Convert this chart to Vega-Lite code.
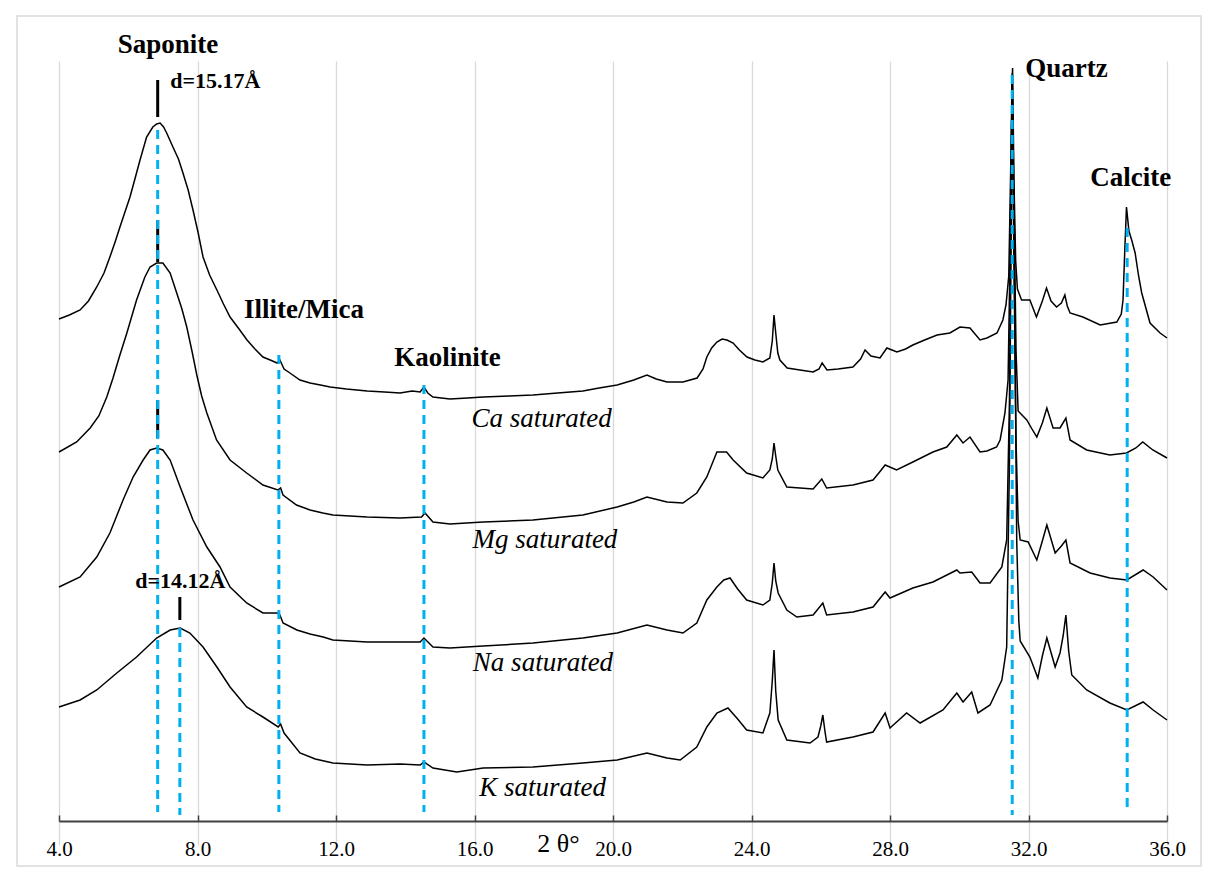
{
  "$schema": "https://vega.github.io/schema/vega-lite/v6.json",
  "width": 1184,
  "height": 850,
  "autosize": {"type": "none"},
  "padding": {"left": 17, "top": 16, "right": 9, "bottom": 7},
  "background": "white",
  "config": {"view": {"stroke": "#d9d9d9", "strokeWidth": 1.5}},
  "datasets": {
    "curves": [
      {"s":"Ca","x":4.00,"y":502},{"s":"Ca","x":4.30,"y":506},{"s":"Ca","x":4.61,"y":511},{"s":"Ca","x":4.85,"y":520},{"s":"Ca","x":5.09,"y":534},{"s":"Ca","x":5.30,"y":548},{"s":"Ca","x":5.47,"y":564},{"s":"Ca","x":5.62,"y":579},{"s":"Ca","x":5.76,"y":594},{"s":"Ca","x":6.05,"y":624},{"s":"Ca","x":6.20,"y":643},{"s":"Ca","x":6.34,"y":661},{"s":"Ca","x":6.53,"y":684},{"s":"Ca","x":6.71,"y":694},{"s":"Ca","x":6.82,"y":697},{"s":"Ca","x":6.92,"y":698},{"s":"Ca","x":7.02,"y":694},{"s":"Ca","x":7.11,"y":688},{"s":"Ca","x":7.29,"y":674},{"s":"Ca","x":7.45,"y":662},{"s":"Ca","x":7.58,"y":648},{"s":"Ca","x":7.73,"y":631},{"s":"Ca","x":7.87,"y":611},{"s":"Ca","x":8.02,"y":588},{"s":"Ca","x":8.16,"y":564},{"s":"Ca","x":8.35,"y":546},{"s":"Ca","x":8.56,"y":531},{"s":"Ca","x":8.75,"y":517},{"s":"Ca","x":8.94,"y":504},{"s":"Ca","x":9.20,"y":492},{"s":"Ca","x":9.43,"y":481},{"s":"Ca","x":9.66,"y":472},{"s":"Ca","x":9.89,"y":464},{"s":"Ca","x":10.10,"y":461},{"s":"Ca","x":10.30,"y":458},{"s":"Ca","x":10.38,"y":461},{"s":"Ca","x":10.50,"y":452},{"s":"Ca","x":10.67,"y":448},{"s":"Ca","x":10.96,"y":441},{"s":"Ca","x":11.25,"y":438},{"s":"Ca","x":11.55,"y":436},{"s":"Ca","x":11.83,"y":434},{"s":"Ca","x":12.30,"y":432},{"s":"Ca","x":12.90,"y":430},{"s":"Ca","x":13.40,"y":429},{"s":"Ca","x":13.85,"y":428},{"s":"Ca","x":14.20,"y":430},{"s":"Ca","x":14.43,"y":429},{"s":"Ca","x":14.54,"y":434},{"s":"Ca","x":14.65,"y":428},{"s":"Ca","x":14.80,"y":424},{"s":"Ca","x":15.29,"y":422},{"s":"Ca","x":15.80,"y":423},{"s":"Ca","x":16.25,"y":424},{"s":"Ca","x":17.00,"y":425},{"s":"Ca","x":17.69,"y":426},{"s":"Ca","x":18.40,"y":428},{"s":"Ca","x":19.13,"y":430},{"s":"Ca","x":19.60,"y":433},{"s":"Ca","x":20.12,"y":436},{"s":"Ca","x":20.60,"y":441},{"s":"Ca","x":20.98,"y":446},{"s":"Ca","x":21.25,"y":442},{"s":"Ca","x":21.56,"y":439},{"s":"Ca","x":22.02,"y":439},{"s":"Ca","x":22.43,"y":443},{"s":"Ca","x":22.60,"y":452},{"s":"Ca","x":22.71,"y":464},{"s":"Ca","x":22.85,"y":473},{"s":"Ca","x":23.00,"y":479},{"s":"Ca","x":23.15,"y":482},{"s":"Ca","x":23.29,"y":481},{"s":"Ca","x":23.47,"y":478},{"s":"Ca","x":23.65,"y":471},{"s":"Ca","x":23.87,"y":464},{"s":"Ca","x":24.10,"y":461},{"s":"Ca","x":24.33,"y":459},{"s":"Ca","x":24.53,"y":463},{"s":"Ca","x":24.60,"y":480},{"s":"Ca","x":24.65,"y":506},{"s":"Ca","x":24.70,"y":488},{"s":"Ca","x":24.76,"y":468},{"s":"Ca","x":24.82,"y":461},{"s":"Ca","x":25.03,"y":453},{"s":"Ca","x":25.40,"y":451},{"s":"Ca","x":25.78,"y":449},{"s":"Ca","x":25.95,"y":452},{"s":"Ca","x":26.04,"y":458},{"s":"Ca","x":26.18,"y":451},{"s":"Ca","x":26.50,"y":452},{"s":"Ca","x":26.93,"y":454},{"s":"Ca","x":27.15,"y":462},{"s":"Ca","x":27.28,"y":471},{"s":"Ca","x":27.45,"y":465},{"s":"Ca","x":27.71,"y":463},{"s":"Ca","x":27.91,"y":473},{"s":"Ca","x":28.20,"y":469},{"s":"Ca","x":28.45,"y":472},{"s":"Ca","x":28.66,"y":476},{"s":"Ca","x":29.00,"y":481},{"s":"Ca","x":29.36,"y":486},{"s":"Ca","x":29.73,"y":488},{"s":"Ca","x":30.02,"y":494},{"s":"Ca","x":30.31,"y":493},{"s":"Ca","x":30.60,"y":481},{"s":"Ca","x":30.80,"y":483},{"s":"Ca","x":31.09,"y":488},{"s":"Ca","x":31.26,"y":501},{"s":"Ca","x":31.35,"y":516},{"s":"Ca","x":31.43,"y":545},{"s":"Ca","x":31.49,"y":660},{"s":"Ca","x":31.54,"y":753},{"s":"Ca","x":31.58,"y":640},{"s":"Ca","x":31.63,"y":560},{"s":"Ca","x":31.68,"y":532},{"s":"Ca","x":31.80,"y":521},{"s":"Ca","x":32.04,"y":521},{"s":"Ca","x":32.14,"y":512},{"s":"Ca","x":32.23,"y":504},{"s":"Ca","x":32.40,"y":520},{"s":"Ca","x":32.52,"y":533},{"s":"Ca","x":32.65,"y":520},{"s":"Ca","x":32.81,"y":514},{"s":"Ca","x":32.95,"y":518},{"s":"Ca","x":33.05,"y":526},{"s":"Ca","x":33.12,"y":515},{"s":"Ca","x":33.20,"y":508},{"s":"Ca","x":33.57,"y":504},{"s":"Ca","x":34.07,"y":496},{"s":"Ca","x":34.55,"y":499},{"s":"Ca","x":34.68,"y":507},{"s":"Ca","x":34.73,"y":521},{"s":"Ca","x":34.78,"y":570},{"s":"Ca","x":34.83,"y":614},{"s":"Ca","x":34.90,"y":590},{"s":"Ca","x":34.98,"y":581},{"s":"Ca","x":35.08,"y":568},{"s":"Ca","x":35.18,"y":545},{"s":"Ca","x":35.27,"y":528},{"s":"Ca","x":35.51,"y":498},{"s":"Ca","x":35.80,"y":488},{"s":"Ca","x":36.00,"y":483},
      {"s":"Mg","x":4.00,"y":369},{"s":"Mg","x":4.51,"y":379},{"s":"Mg","x":4.90,"y":393},{"s":"Mg","x":5.15,"y":405},{"s":"Mg","x":5.38,"y":424},{"s":"Mg","x":5.56,"y":443},{"s":"Mg","x":5.75,"y":465},{"s":"Mg","x":5.96,"y":488},{"s":"Mg","x":6.24,"y":521},{"s":"Mg","x":6.48,"y":544},{"s":"Mg","x":6.63,"y":554},{"s":"Mg","x":6.82,"y":558},{"s":"Mg","x":7.00,"y":558},{"s":"Mg","x":7.21,"y":548},{"s":"Mg","x":7.40,"y":528},{"s":"Mg","x":7.55,"y":512},{"s":"Mg","x":7.69,"y":494},{"s":"Mg","x":7.84,"y":470},{"s":"Mg","x":7.98,"y":446},{"s":"Mg","x":8.12,"y":425},{"s":"Mg","x":8.27,"y":408},{"s":"Mg","x":8.55,"y":381},{"s":"Mg","x":8.94,"y":361},{"s":"Mg","x":9.42,"y":348},{"s":"Mg","x":9.89,"y":336},{"s":"Mg","x":10.32,"y":331},{"s":"Mg","x":10.40,"y":333},{"s":"Mg","x":10.47,"y":326},{"s":"Mg","x":10.86,"y":316},{"s":"Mg","x":11.25,"y":311},{"s":"Mg","x":11.62,"y":308},{"s":"Mg","x":11.91,"y":306},{"s":"Mg","x":12.90,"y":304},{"s":"Mg","x":13.85,"y":303},{"s":"Mg","x":14.47,"y":304},{"s":"Mg","x":14.57,"y":308},{"s":"Mg","x":14.80,"y":299},{"s":"Mg","x":15.29,"y":297},{"s":"Mg","x":16.25,"y":299},{"s":"Mg","x":17.69,"y":301},{"s":"Mg","x":19.13,"y":306},{"s":"Mg","x":20.12,"y":314},{"s":"Mg","x":20.60,"y":319},{"s":"Mg","x":20.98,"y":324},{"s":"Mg","x":21.56,"y":319},{"s":"Mg","x":22.02,"y":318},{"s":"Mg","x":22.42,"y":328},{"s":"Mg","x":22.71,"y":344},{"s":"Mg","x":23.00,"y":369},{"s":"Mg","x":23.28,"y":369},{"s":"Mg","x":23.47,"y":361},{"s":"Mg","x":23.86,"y":348},{"s":"Mg","x":24.33,"y":343},{"s":"Mg","x":24.53,"y":351},{"s":"Mg","x":24.60,"y":362},{"s":"Mg","x":24.65,"y":378},{"s":"Mg","x":24.70,"y":365},{"s":"Mg","x":24.76,"y":351},{"s":"Mg","x":25.02,"y":334},{"s":"Mg","x":25.78,"y":332},{"s":"Mg","x":26.03,"y":342},{"s":"Mg","x":26.17,"y":333},{"s":"Mg","x":26.93,"y":336},{"s":"Mg","x":27.51,"y":341},{"s":"Mg","x":27.70,"y":349},{"s":"Mg","x":27.86,"y":356},{"s":"Mg","x":28.19,"y":351},{"s":"Mg","x":28.66,"y":359},{"s":"Mg","x":29.24,"y":369},{"s":"Mg","x":29.64,"y":374},{"s":"Mg","x":29.93,"y":386},{"s":"Mg","x":30.11,"y":378},{"s":"Mg","x":30.31,"y":384},{"s":"Mg","x":30.60,"y":369},{"s":"Mg","x":30.80,"y":370},{"s":"Mg","x":31.08,"y":374},{"s":"Mg","x":31.18,"y":381},{"s":"Mg","x":31.32,"y":408},{"s":"Mg","x":31.41,"y":441},{"s":"Mg","x":31.47,"y":570},{"s":"Mg","x":31.53,"y":748},{"s":"Mg","x":31.58,"y":620},{"s":"Mg","x":31.64,"y":470},{"s":"Mg","x":31.70,"y":410},{"s":"Mg","x":31.95,"y":401},{"s":"Mg","x":32.10,"y":392},{"s":"Mg","x":32.24,"y":384},{"s":"Mg","x":32.40,"y":398},{"s":"Mg","x":32.53,"y":413},{"s":"Mg","x":32.71,"y":393},{"s":"Mg","x":32.91,"y":393},{"s":"Mg","x":33.08,"y":403},{"s":"Mg","x":33.20,"y":381},{"s":"Mg","x":33.68,"y":371},{"s":"Mg","x":34.35,"y":366},{"s":"Mg","x":34.83,"y":368},{"s":"Mg","x":35.10,"y":373},{"s":"Mg","x":35.30,"y":379},{"s":"Mg","x":35.59,"y":371},{"s":"Mg","x":36.00,"y":363},
      {"s":"Na","x":4.00,"y":234},{"s":"Na","x":4.61,"y":244},{"s":"Na","x":5.09,"y":264},{"s":"Na","x":5.47,"y":288},{"s":"Na","x":5.85,"y":321},{"s":"Na","x":6.14,"y":344},{"s":"Na","x":6.43,"y":361},{"s":"Na","x":6.63,"y":371},{"s":"Na","x":6.82,"y":373},{"s":"Na","x":7.00,"y":371},{"s":"Na","x":7.21,"y":361},{"s":"Na","x":7.50,"y":334},{"s":"Na","x":7.87,"y":301},{"s":"Na","x":8.27,"y":274},{"s":"Na","x":8.65,"y":254},{"s":"Na","x":8.94,"y":234},{"s":"Na","x":9.42,"y":218},{"s":"Na","x":9.89,"y":208},{"s":"Na","x":10.30,"y":208},{"s":"Na","x":10.38,"y":206},{"s":"Na","x":10.47,"y":198},{"s":"Na","x":10.87,"y":191},{"s":"Na","x":11.25,"y":187},{"s":"Na","x":11.63,"y":184},{"s":"Na","x":11.91,"y":181},{"s":"Na","x":12.90,"y":179},{"s":"Na","x":13.85,"y":179},{"s":"Na","x":14.43,"y":179},{"s":"Na","x":14.54,"y":183},{"s":"Na","x":14.80,"y":174},{"s":"Na","x":15.29,"y":173},{"s":"Na","x":16.25,"y":175},{"s":"Na","x":17.69,"y":178},{"s":"Na","x":19.13,"y":183},{"s":"Na","x":20.12,"y":188},{"s":"Na","x":20.98,"y":196},{"s":"Na","x":21.56,"y":191},{"s":"Na","x":22.02,"y":188},{"s":"Na","x":22.42,"y":198},{"s":"Na","x":22.71,"y":221},{"s":"Na","x":23.00,"y":234},{"s":"Na","x":23.20,"y":241},{"s":"Na","x":23.38,"y":243},{"s":"Na","x":23.60,"y":232},{"s":"Na","x":23.86,"y":221},{"s":"Na","x":24.33,"y":216},{"s":"Na","x":24.53,"y":221},{"s":"Na","x":24.60,"y":238},{"s":"Na","x":24.65,"y":258},{"s":"Na","x":24.70,"y":240},{"s":"Na","x":24.77,"y":228},{"s":"Na","x":25.02,"y":211},{"s":"Na","x":25.31,"y":204},{"s":"Na","x":25.78,"y":206},{"s":"Na","x":26.06,"y":218},{"s":"Na","x":26.17,"y":206},{"s":"Na","x":26.93,"y":209},{"s":"Na","x":27.51,"y":214},{"s":"Na","x":27.86,"y":229},{"s":"Na","x":28.00,"y":223},{"s":"Na","x":28.66,"y":233},{"s":"Na","x":29.24,"y":239},{"s":"Na","x":29.93,"y":251},{"s":"Na","x":30.02,"y":248},{"s":"Na","x":30.36,"y":249},{"s":"Na","x":30.60,"y":238},{"s":"Na","x":30.89,"y":238},{"s":"Na","x":31.23,"y":254},{"s":"Na","x":31.37,"y":281},{"s":"Na","x":31.45,"y":420},{"s":"Na","x":31.52,"y":742},{"s":"Na","x":31.58,"y":560},{"s":"Na","x":31.64,"y":380},{"s":"Na","x":31.70,"y":300},{"s":"Na","x":31.76,"y":281},{"s":"Na","x":31.99,"y":279},{"s":"Na","x":32.24,"y":261},{"s":"Na","x":32.40,"y":280},{"s":"Na","x":32.53,"y":296},{"s":"Na","x":32.77,"y":268},{"s":"Na","x":32.95,"y":275},{"s":"Na","x":33.08,"y":281},{"s":"Na","x":33.20,"y":258},{"s":"Na","x":33.78,"y":248},{"s":"Na","x":34.35,"y":243},{"s":"Na","x":34.84,"y":241},{"s":"Na","x":35.31,"y":251},{"s":"Na","x":35.60,"y":244},{"s":"Na","x":36.00,"y":231},
      {"s":"K","x":4.00,"y":114},{"s":"K","x":4.61,"y":121},{"s":"K","x":5.09,"y":131},{"s":"K","x":5.67,"y":148},{"s":"K","x":6.24,"y":164},{"s":"K","x":6.82,"y":183},{"s":"K","x":7.21,"y":191},{"s":"K","x":7.50,"y":193},{"s":"K","x":7.78,"y":188},{"s":"K","x":8.16,"y":174},{"s":"K","x":8.56,"y":154},{"s":"K","x":8.94,"y":134},{"s":"K","x":9.42,"y":114},{"s":"K","x":9.89,"y":104},{"s":"K","x":10.33,"y":94},{"s":"K","x":10.40,"y":97},{"s":"K","x":10.50,"y":88},{"s":"K","x":10.96,"y":68},{"s":"K","x":11.40,"y":62},{"s":"K","x":11.91,"y":58},{"s":"K","x":12.90,"y":56},{"s":"K","x":13.85,"y":57},{"s":"K","x":14.43,"y":56},{"s":"K","x":14.54,"y":59},{"s":"K","x":14.80,"y":53},{"s":"K","x":15.49,"y":49},{"s":"K","x":16.25,"y":53},{"s":"K","x":17.69,"y":54},{"s":"K","x":19.13,"y":58},{"s":"K","x":20.12,"y":61},{"s":"K","x":20.98,"y":68},{"s":"K","x":21.56,"y":63},{"s":"K","x":21.94,"y":61},{"s":"K","x":22.42,"y":74},{"s":"K","x":22.71,"y":94},{"s":"K","x":23.00,"y":108},{"s":"K","x":23.32,"y":113},{"s":"K","x":23.60,"y":102},{"s":"K","x":23.86,"y":91},{"s":"K","x":24.33,"y":88},{"s":"K","x":24.53,"y":108},{"s":"K","x":24.60,"y":140},{"s":"K","x":24.65,"y":171},{"s":"K","x":24.70,"y":130},{"s":"K","x":24.77,"y":101},{"s":"K","x":25.02,"y":81},{"s":"K","x":25.69,"y":78},{"s":"K","x":25.92,"y":84},{"s":"K","x":26.00,"y":95},{"s":"K","x":26.06,"y":106},{"s":"K","x":26.12,"y":90},{"s":"K","x":26.17,"y":79},{"s":"K","x":26.93,"y":84},{"s":"K","x":27.51,"y":89},{"s":"K","x":27.86,"y":108},{"s":"K","x":28.00,"y":93},{"s":"K","x":28.48,"y":108},{"s":"K","x":28.87,"y":98},{"s":"K","x":29.53,"y":111},{"s":"K","x":29.93,"y":128},{"s":"K","x":30.11,"y":119},{"s":"K","x":30.36,"y":129},{"s":"K","x":30.54,"y":108},{"s":"K","x":30.89,"y":116},{"s":"K","x":31.23,"y":141},{"s":"K","x":31.37,"y":174},{"s":"K","x":31.45,"y":360},{"s":"K","x":31.53,"y":738},{"s":"K","x":31.60,"y":520},{"s":"K","x":31.66,"y":280},{"s":"K","x":31.72,"y":200},{"s":"K","x":31.76,"y":180},{"s":"K","x":32.04,"y":164},{"s":"K","x":32.27,"y":143},{"s":"K","x":32.40,"y":165},{"s":"K","x":32.53,"y":183},{"s":"K","x":32.77,"y":154},{"s":"K","x":32.91,"y":168},{"s":"K","x":33.00,"y":185},{"s":"K","x":33.08,"y":206},{"s":"K","x":33.16,"y":170},{"s":"K","x":33.25,"y":146},{"s":"K","x":33.68,"y":131},{"s":"K","x":34.35,"y":118},{"s":"K","x":34.84,"y":111},{"s":"K","x":35.31,"y":119},{"s":"K","x":35.60,"y":111},{"s":"K","x":36.00,"y":101}
    ],
    "dashed": [
      {"x":6.85,"y":691,"y2":9},{"x":7.49,"y":193,"y2":6},{"x":10.35,"y":466,"y2":9},{"x":14.54,"y":436,"y2":9},{"x":31.53,"y":746,"y2":6},{"x":34.85,"y":593,"y2":9}
    ],
    "markers": [
      {"x":6.85,"y":741,"y2":704},{"x":6.85,"y":601,"y2":559},{"x":6.85,"y":421,"y2":383},{"x":7.49,"y":224,"y2":201}
    ],
    "minerals": [
      {"t":"Saponite","x":7.148,"y":768},{"t":"Illite/Mica","x":11.076,"y":503},{"t":"Kaolinite","x":15.22,"y":455},{"t":"Quartz","x":33.1,"y":744},{"t":"Calcite","x":34.955,"y":635}
    ],
    "dlabels": [
      {"t":"d=15.17Å","x":8.514,"y":733},{"t":"d=14.12Å","x":7.503,"y":233}
    ],
    "samples": [
      {"t":"Ca saturated","x":17.94,"y":394},{"t":"Mg saturated","x":18.036,"y":273},{"t":"Na saturated","x":17.978,"y":150},{"t":"K saturated","x":17.964,"y":25}
    ]
  },
  "encoding": {
    "x": {"field":"x","type":"quantitative","scale":{"domain":[4,36],"range":[42,1150],"nice":false,"zero":false},
      "axis":{"values":[4,8,12,16,20,24,28,32,36],"format":".1f","offset":-45,"grid":true,"gridColor":"#d9d9d9","gridWidth":1.3,
        "domainColor":"#404040","domainWidth":2,"tickColor":"#404040","tickWidth":1.5,"tickSize":-6,
        "labelFlush":false,"labelFont":"Liberation Serif","labelFontSize":21,"labelColor":"#000000","labelBaseline":"alphabetic","labelPadding":40,
        "title":"2 θ°","titleFont":"Liberation Serif","titleFontSize":26,"titleFontWeight":"normal","titleColor":"#000000",
        "titleX":541,"titleY":30,"titleAlign":"center","titleBaseline":"alphabetic"}},
    "y": {"field":"y","type":"quantitative","scale":{"domain":[0,784],"range":[805,21],"nice":false,"zero":false},"axis":null}
  },
  "layer": [
    {"data":{"name":"curves"},"mark":{"type":"line","color":"#000000","strokeWidth":1.5},
      "encoding":{"detail":{"field":"s"}}},
    {"data":{"name":"markers"},"mark":{"type":"rule","color":"#000000","strokeWidth":3},
      "encoding":{"y2":{"field":"y2"}}},
    {"data":{"name":"dashed"},"mark":{"type":"rule","color":"#00B0F0","strokeWidth":3,"strokeDash":[9,6]},
      "encoding":{"y2":{"field":"y2"}}},
    {"data":{"name":"minerals"},"mark":{"type":"text","font":"Liberation Serif","fontSize":27,"fontWeight":"bold","color":"#000000","align":"center","baseline":"alphabetic"},
      "encoding":{"text":{"field":"t"}}},
    {"data":{"name":"dlabels"},"mark":{"type":"text","font":"Liberation Serif","fontSize":22,"fontWeight":"bold","color":"#000000","align":"center","baseline":"alphabetic"},
      "encoding":{"text":{"field":"t"}}},
    {"data":{"name":"samples"},"mark":{"type":"text","font":"Liberation Serif","fontSize":27,"fontStyle":"italic","color":"#000000","align":"center","baseline":"alphabetic"},
      "encoding":{"text":{"field":"t"}}}
  ]
}
